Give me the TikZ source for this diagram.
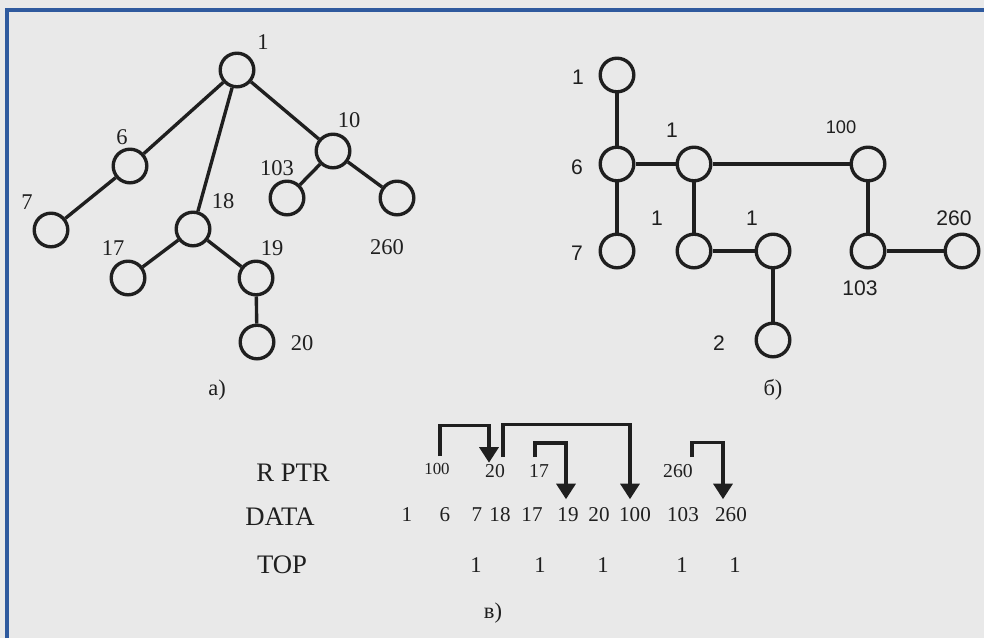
\documentclass[tikz,border=0pt]{standalone}
\usepackage{fontspec}
\setmainfont{Liberation Serif}
\setsansfont{Liberation Sans}
\usetikzlibrary{arrows.meta,calc}

\definecolor{paper}{HTML}{E9E9E9}
\definecolor{frameblue}{HTML}{2F5A9E}
\definecolor{ink}{HTML}{1F1F1F}

\tikzset{
  vert/.style={circle,draw=ink,line width=2.4pt,minimum size=0.84cm,inner sep=0pt},
  edge/.style={draw=ink,line width=2.4pt},
  lbl/.style={text=ink,inner sep=1pt,font=\fontsize{16}{18}\selectfont},
  slbl/.style={text=ink,inner sep=1pt,font=\sffamily\fontsize{15}{17}\selectfont},
  rowname/.style={text=ink,inner sep=1pt,font=\fontsize{19}{21}\selectfont},
  cell/.style={text=ink,inner sep=1pt,font=\fontsize{15}{17}\selectfont},
  ptr/.style={draw=ink,line width=2.4pt,shorten <=4pt,
    -{Triangle[length=11pt,width=13.5pt]}},
}

\begin{document}
\begin{tikzpicture}[x=0.025cm,y=-0.025cm]
      % page, in pixels of the scan
      \useasboundingbox (0,0) rectangle (984,638);
      \fill[paper] (0,0) rectangle (984,638);
      \draw[frameblue,line width=2.8pt] (7,638) -- (7,10) -- (984,10);

      % a) the tree
      \node[vert] (a1) at (237,70) {};
      \node[vert] (a6) at (130,166) {};
      \node[vert] (a7) at (51,230) {};
      \node[vert] (a18) at (193,229) {};
      \node[vert] (a17) at (128,278) {};
      \node[vert] (a19) at (256,278) {};
      \node[vert] (a20) at (257,342) {};
      \node[vert] (a10) at (333,151) {};
      \node[vert] (a103) at (287,198) {};
      \node[vert] (a260) at (397,198) {};
      \draw[edge] (a1) -- (a6) (a1) -- (a18) (a1) -- (a10);
      \draw[edge] (a6) -- (a7);
      \draw[edge] (a18) -- (a17) (a18) -- (a19) (a19) -- (a20);
      \draw[edge] (a10) -- (a103) (a10) -- (a260);
      \node[lbl] (la1) at (263,42) {1};
      \node[lbl] (la6) at (122,137) {6};
      \node[lbl] (la7) at (27,202) {7};
      \node[lbl] (la18) at (223,201) {18};
      \node[lbl] (la17) at (113,248) {17};
      \node[lbl] (la19) at (272,248) {19};
      \node[lbl] (la20) at (302,343) {20};
      \node[lbl] (la10) at (349,120) {10};
      \node[lbl] (la103) at (277,168) {103};
      \node[lbl] (la260) at (387,247) {260};
      \node[lbl] (capa) at (217,390) {a)};

      % b) the binary form
      \node[vert] (b1) at (617,75) {};
      \node[vert] (b6) at (617,164) {};
      \node[vert] (b7) at (617,251) {};
      \node[vert] (bu) at (694,164) {};
      \node[vert] (bv) at (694,251) {};
      \node[vert] (bw) at (773,251) {};
      \node[vert] (b2) at (773,340) {};
      \node[vert] (b100) at (868,164) {};
      \node[vert] (b103) at (868,251) {};
      \node[vert] (b260) at (962,251) {};
      \draw[edge] (b1) -- (b6) (b6) -- (b7) (b6) -- (bu);
      \draw[edge,line width=3pt] (bu) -- (b100);
      \draw[edge] (bu) -- (bv) (bv) -- (bw) (bw) -- (b2);
      \draw[edge] (b100) -- (b103) (b103) -- (b260);
      \node[slbl] (lb1) at (578,77) {1};
      \node[slbl] (lb6) at (577,167) {6};
      \node[slbl] (lb7) at (577,253) {7};
      \node[slbl] (lbu) at (672,130) {1};
      \node[slbl] (lbv) at (657,218) {1};
      \node[slbl] (lbw) at (752,218) {1};
      \node[slbl] (lb2) at (719,343) {2};
      \node[slbl,font=\sffamily\fontsize{13}{15}\selectfont] (lb100) at (841,127) {100};
      \node[slbl] (lb103) at (860,288) {103};
      \node[slbl] (lb260) at (954,218) {260};
      \node[lbl] (capb) at (773,390) {б)};

      % c) the table
      \node[rowname] (nptr) at (293,473) {R PTR};
      \node[rowname] (ndata) at (280,517) {DATA};
      \node[rowname] (ntop) at (282,565) {TOP};

      \node[cell,font=\fontsize{12}{14}\selectfont] (r100) at (437,469) {100};
      \node[cell,font=\fontsize{14}{16}\selectfont] (r20) at (495,471) {20};
      \node[cell,font=\fontsize{14}{16}\selectfont] (r17) at (539,471) {17};
      \node[cell,font=\fontsize{14}{16}\selectfont] (r260) at (678,471) {260};

      \node[cell] (d1) at (407,515) {1};
      \node[cell] (d6) at (445,515) {6};
      \node[cell] (d7) at (477,515) {7};
      \node[cell] (d18) at (500,515) {18};
      \node[cell] (d17) at (532,515) {17};
      \node[cell] (d19) at (568,515) {19};
      \node[cell] (d20) at (599,515) {20};
      \node[cell] (d100) at (635,515) {100};
      \node[cell] (d103) at (683,515) {103};
      \node[cell] (d260) at (731,515) {260};

      \node[cell,font=\fontsize{16}{18}\selectfont] (t7) at (476,565) {1};
      \node[cell,font=\fontsize{16}{18}\selectfont] (t17) at (540,565) {1};
      \node[cell,font=\fontsize{16}{18}\selectfont] (t20) at (603,565) {1};
      \node[cell,font=\fontsize{16}{18}\selectfont] (t103) at (682,565) {1};
      \node[cell,font=\fontsize{16}{18}\selectfont] (t260) at (735,565) {1};

      \draw[ptr] ($(r100.north)+(3,0)$) -- ++(0,-36) -| ($(r20.north)+(-6,0)$);
      \draw[ptr,shorten >=5pt] ($(r20.north)+(8,0)$) -- ++(0,-38) -| ($(d100.north)+(-5,0)$);
      \draw[ptr,shorten >=5pt] ($(r17.north)+(-4,0)$) -- ++(0,-20) -| ($(d19.north)+(-2,0)$);
      \draw[ptr,shorten >=5pt] ($(r260.north)+(14,0)$) -- ++(0,-20) -| ($(d260.north)+(-8,0)$);

      \node[lbl] (capc) at (493,613) {в)};
    \end{tikzpicture}
\end{document}
